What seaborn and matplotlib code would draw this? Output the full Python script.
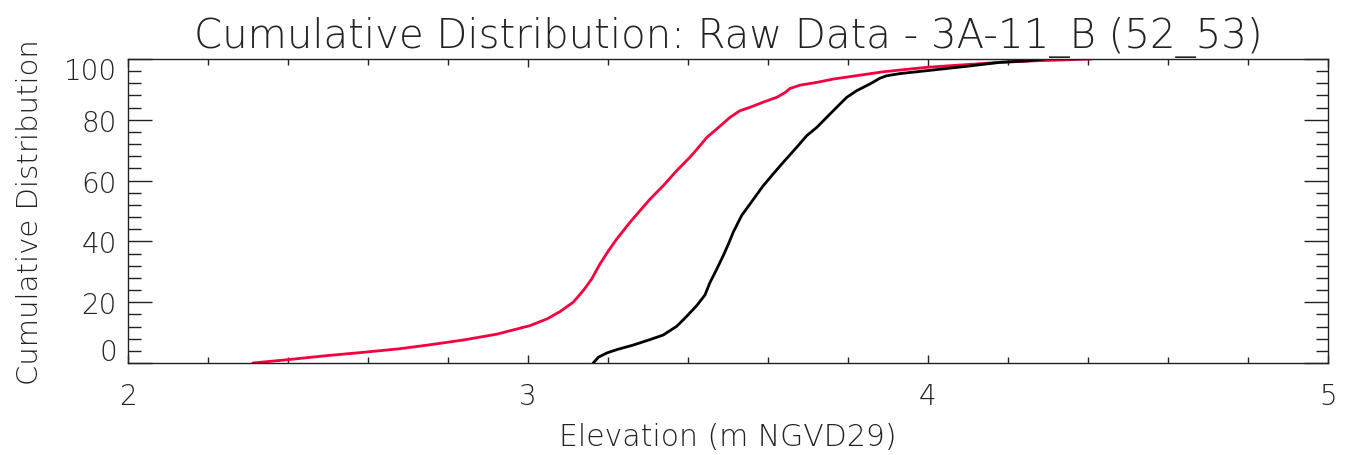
"""Curvas de distribucion acumulada (datos crudos) para 3A-11_B"""
import matplotlib
matplotlib.use("Agg")
import matplotlib.pyplot as plt
import matplotlib.transforms as mtransforms
from matplotlib.ticker import MultipleLocator, FuncFormatter
import seaborn as sn
import pandas as pd

sn.set_style("ticks")
plt.rcParams["font.family"] = ["DejaVu Sans"]

# curva roja
rojo_x = [2.312, 2.40, 2.495, 2.5875, 2.68, 2.755, 2.84, 2.9225, 3.005, 3.0475,
          3.08, 3.113, 3.138, 3.159, 3.18, 3.201, 3.222, 3.255, 3.28, 3.305,
          3.338, 3.372, 3.405, 3.43, 3.447, 3.472, 3.505, 3.53, 3.555, 3.588,
          3.622, 3.643, 3.655, 3.68, 3.722, 3.763, 3.805, 3.888, 4.0, 4.18,
          4.2675, 4.41]
rojo_y = [0.0, 1.1, 2.4, 3.5, 4.7, 6.0, 7.6, 9.5, 12.3, 14.5,
          16.9, 20.0, 23.8, 27.6, 32.6, 36.9, 40.8, 46.3, 50.1, 53.9,
          58.3, 63.3, 67.7, 71.5, 74.2, 77.0, 80.8, 83.0, 84.1, 85.8,
          87.4, 89.0, 90.3, 91.4, 92.3, 93.4, 94.2, 95.8, 97.3, 98.9,
          99.4, 100.0]

# curva negra
negro_x = [3.163, 3.176, 3.197, 3.222, 3.263, 3.305, 3.338, 3.372, 3.397, 3.422,
           3.4425, 3.455, 3.472, 3.488, 3.501, 3.513, 3.534, 3.555, 3.588, 3.613,
           3.638, 3.672, 3.697, 3.722, 3.755, 3.78, 3.797, 3.822, 3.855, 3.88,
           3.897, 3.93, 4.0, 4.097, 4.18, 4.25, 4.29]
negro_y = [0.0, 1.9, 3.3, 4.4, 5.9, 7.7, 9.2, 12.1, 15.4, 18.9,
           22.4, 26.5, 30.9, 35.3, 39.1, 43.0, 48.5, 52.3, 58.3, 62.2,
           66.0, 71.0, 74.8, 77.5, 81.9, 85.2, 87.4, 89.6, 91.8, 93.7,
           94.5, 95.2, 96.2, 97.6, 98.9, 99.4, 100.0]

rojo = "#f5003c"
gris = "#222222"

fig = plt.figure(figsize=(13.51, 4.56), dpi=100)
ax = fig.add_axes([128 / 1351, 92 / 456, 1200 / 1351, 304 / 456])

df_rojo = pd.DataFrame({"x": rojo_x, "y": rojo_y})
df_negro = pd.DataFrame({"x": negro_x, "y": negro_y})
sn.lineplot(x="x", y="y", data=df_rojo, ax=ax, color=rojo, linewidth=2.0,
            estimator=None, sort=False)
sn.lineplot(x="x", y="y", data=df_negro, ax=ax, color="black", linewidth=2.0,
            estimator=None, sort=False)

ax.set_xlim(2, 5)
ax.set_ylim(0, 100)
ax.xaxis.set_major_locator(MultipleLocator(1))
ax.xaxis.set_minor_locator(MultipleLocator(0.2))
ax.yaxis.set_major_locator(MultipleLocator(20))
ax.yaxis.set_minor_locator(MultipleLocator(4))
# 0 y 100 se escriben aparte, un poco hacia dentro como en el original
ax.yaxis.set_major_formatter(FuncFormatter(lambda v, p: "" if v in (0, 100) else f"{int(v)}"))

for s in ax.spines.values():
    s.set_linewidth(1.0)
    s.set_color(gris)

ax.tick_params(axis="x", which="both", direction="in", top=True, bottom=True,
               width=1, color=gris, labelsize=20, labelcolor=gris, pad=14)
ax.tick_params(axis="x", which="major", length=6)
ax.tick_params(axis="x", which="minor", length=4)
ax.tick_params(axis="y", which="both", direction="in", left=True, right=True,
               width=1, color=gris, labelsize=20, labelcolor=gris, pad=8)
ax.tick_params(axis="y", which="major", length=17)
ax.tick_params(axis="y", which="minor", length=9)

for lab in ax.get_xticklabels() + ax.get_yticklabels():
    lab.set_fontweight("light")

trans = ax.get_yaxis_transform()
for v, dy in ((0, 11), (100, -12)):
    off = mtransforms.ScaledTranslation(-11 / 100, dy / 100, fig.dpi_scale_trans)
    ax.text(0, v, f"{v}", transform=trans + off, ha="right", va="center",
            fontsize=20, fontweight="light", color=gris)

ax.set_xlabel("Elevation (m NGVD29)", fontsize=21.5, fontweight="light",
              color=gris, labelpad=8)
ax.set_ylabel("Cumulative Distribution", fontsize=21, fontweight="light",
              color=gris, va="center")
ax.yaxis.set_label_coords(-0.0817, 0.5)
ax.set_title("Cumulative Distribution: Raw Data - 3A-11_B (52_53)", fontsize=29,
             fontweight="light", color=gris, pad=9)

fig.savefig("out.png", dpi=100)
